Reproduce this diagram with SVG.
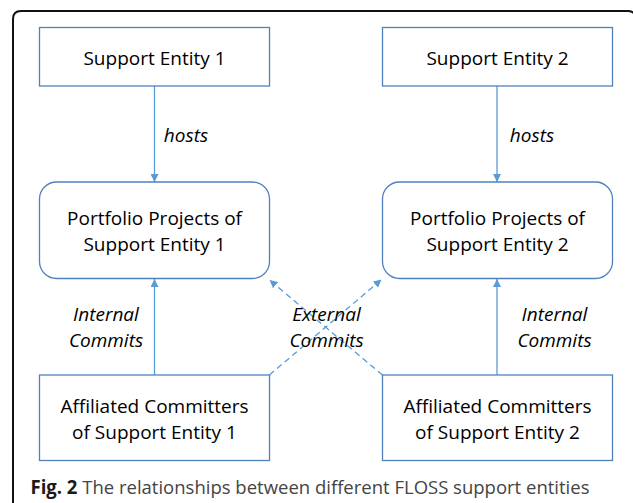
<svg xmlns="http://www.w3.org/2000/svg" width="633" height="503" viewBox="0 0 633 503">
<style>
.box{fill:#fff;stroke:#4f81bd;stroke-width:1.3}
.lbl{font-family:"Open Sans","Liberation Sans",sans-serif;font-size:19px;fill:#000;text-anchor:middle}
.it{font-family:"Open Sans","Liberation Sans",sans-serif;font-size:19px;font-style:italic;fill:#000;text-anchor:middle}
.con{stroke:#5b9bd5;stroke-width:1.3;fill:none}
.dash{stroke-dasharray:6,4}
.cap{font-family:"Open Sans","Liberation Sans",sans-serif;font-size:19px;fill:#444}
</style>
<defs>
<marker id="ah" viewBox="0 0 10 10" refX="10" refY="5" markerWidth="8" markerHeight="8" markerUnits="userSpaceOnUse" orient="auto">
<path d="M0,0 L10,5 L0,10 z" fill="#5b9bd5"/>
</marker>
</defs>
<rect width="633" height="503" fill="#fff"/>
<path d="M13,503 L13,19 Q13,11 21,11 L628,11 Q634,11 636,17" fill="none" stroke="#111" stroke-width="2"/>
<g id="connectors">
<line class="con" x1="154.5" y1="86" x2="154.5" y2="182" marker-end="url(#ah)"/>
<line class="con" x1="497" y1="86" x2="497" y2="182" marker-end="url(#ah)"/>
<line class="con" x1="154.5" y1="375" x2="154.5" y2="279" marker-end="url(#ah)"/>
<line class="con" x1="497" y1="375" x2="497" y2="279" marker-end="url(#ah)"/>
<line class="con dash" x1="269.5" y1="375" x2="381.5" y2="279.5" marker-end="url(#ah)"/>
<line class="con dash" x1="382.5" y1="375" x2="269.5" y2="280" marker-end="url(#ah)"/>
<text class="it" x="186" y="141.5">hosts</text>
<text class="it" x="532" y="141.5">hosts</text>
<text class="it" x="106" y="321">Internal</text>
<text class="it" x="106" y="346.5">Commits</text>
<text class="it" x="554.5" y="321">Internal</text>
<text class="it" x="554.5" y="346.5">Commits</text>
<text class="it" x="326.5" y="320.5">External</text>
<text class="it" x="326.5" y="346.5">Commits</text>
</g>
<g id="se1">
<rect class="box" x="39.5" y="27.5" width="230" height="58.5"/>
<text class="lbl" x="154.5" y="65">Support Entity 1</text>
</g>
<g id="se2">
<rect class="box" x="382.5" y="27.5" width="230" height="58.5"/>
<text class="lbl" x="497.5" y="65">Support Entity 2</text>
</g>
<g id="pp1">
<rect class="box" x="39.5" y="182" width="230" height="96.5" rx="17"/>
<text class="lbl" x="154.5" y="225">Portfolio Projects of</text>
<text class="lbl" x="154.5" y="251">Support Entity 1</text>
</g>
<g id="pp2">
<rect class="box" x="382.5" y="182" width="230" height="96.5" rx="17"/>
<text class="lbl" x="497.5" y="225">Portfolio Projects of</text>
<text class="lbl" x="497.5" y="251">Support Entity 2</text>
</g>
<g id="ac1">
<rect class="box" x="39.5" y="375" width="230" height="85.5"/>
<text class="lbl" x="154.5" y="412.5">Affiliated Committers</text>
<text class="lbl" x="154.5" y="438.5">of Support Entity 1</text>
</g>
<g id="ac2">
<rect class="box" x="382.5" y="375" width="230" height="85.5"/>
<text class="lbl" x="497.5" y="412.5">Affiliated Committers</text>
<text class="lbl" x="497.5" y="438.5">of Support Entity 2</text>
</g>
<text class="cap" x="30.5" y="493.5" textLength="559" lengthAdjust="spacingAndGlyphs"><tspan font-weight="bold" fill="#1a1a1a">Fig. 2</tspan> The relationships between different FLOSS support entities</text>
</svg>
